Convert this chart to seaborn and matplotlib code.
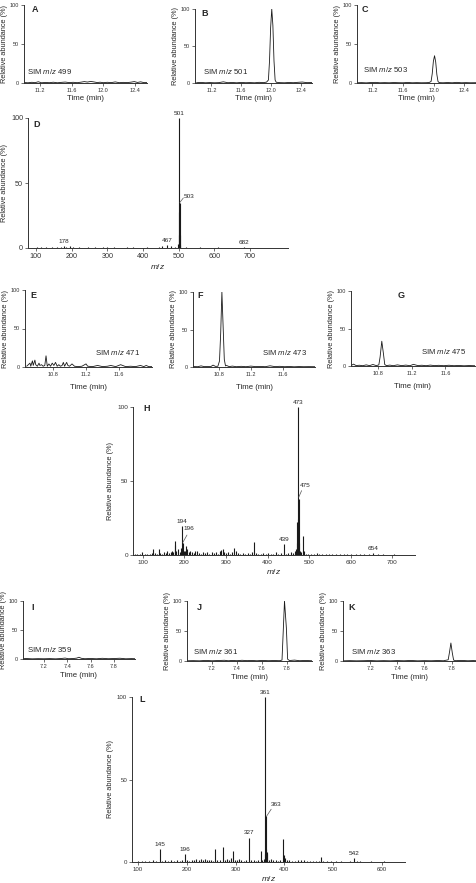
import pandas as pd
import matplotlib
matplotlib.use("Agg")
import matplotlib.pyplot as plt
import seaborn as sns

sns.set_style("ticks")
plt.rcParams['font.family'] = ['Liberation Sans', 'DejaVu Sans']
plt.rcParams['mathtext.fontset'] = 'custom'
plt.rcParams['mathtext.rm'] = 'Liberation Sans'
plt.rcParams['mathtext.it'] = 'Liberation Sans:italic'

# ---- SIM traces (time in min, relative abundance in %)
sim_499 = [(11.00,0.6),(11.05,0.3),(11.10,0.9),(11.14,0.4),(11.18,1.6),(11.22,0.3),(11.27,0.7),(11.32,0.4),
           (11.37,1.0),(11.42,0.3),(11.47,0.8),(11.52,1.2),(11.57,0.5),(11.62,0.9),(11.67,0.4),(11.72,1.1),
           (11.76,1.8),(11.80,1.2),(11.84,2.0),(11.88,1.4),(11.92,0.6),(11.96,1.0),(12.00,0.4),(12.05,0.9),
           (12.10,0.5),(12.15,1.4),(12.20,0.4),(12.25,0.8),(12.30,0.5),(12.35,1.1),(12.39,1.8),(12.43,0.7),
           (12.47,1.5),(12.51,0.5),(12.55,0.6)]
sim_501 = [(11.00,0.4),(11.06,0.8),(11.12,0.3),(11.18,0.6),(11.24,0.3),(11.30,0.5),(11.36,1.6),(11.42,0.4),
           (11.48,0.7),(11.54,0.3),(11.60,0.8),(11.66,0.4),(11.72,0.6),(11.78,0.3),(11.84,0.9),(11.90,0.5),
           (11.94,1.2),(11.965,4),(11.98,30),(11.995,75),(12.01,100),(12.025,78),(12.04,30),(12.055,4),
           (12.07,1.0),(12.12,0.5),(12.18,0.3),(12.24,0.7),(12.30,0.4),(12.36,0.9),(12.42,1.3),(12.48,0.5),
           (12.55,0.6)]
sim_503 = [(11.00,0.3),(11.06,0.5),(11.12,0.2),(11.18,0.6),(11.24,0.8),(11.30,0.3),(11.36,0.5),(11.42,0.3),
           (11.48,0.6),(11.54,0.4),(11.60,0.3),(11.66,0.7),(11.72,0.3),(11.78,0.5),(11.84,0.3),(11.90,0.4),
           (11.94,0.6),(11.965,2),(11.98,12),(11.995,28),(12.01,35),(12.025,27),(12.04,11),(12.055,2),
           (12.07,0.5),(12.12,0.3),(12.18,0.6),(12.24,0.3),(12.30,0.8),(12.36,0.3),(12.42,0.5),(12.48,0.3),
           (12.55,0.4)]
sim_471 = [(10.48,1),(10.50,3),(10.52,5),(10.53,1),(10.55,8),(10.56,2),(10.58,9),(10.59,3),(10.61,1),
           (10.63,5),(10.64,2),(10.66,3),(10.68,1),(10.70,2),(10.715,14.5),(10.73,1),(10.75,4),(10.77,1),
           (10.79,5),(10.81,2),(10.83,6),(10.85,1),(10.87,3),(10.89,1),(10.91,2),(10.925,6),(10.94,1),
           (10.965,6),(10.98,2),(11.00,1),(11.03,4),(11.06,1),(11.10,0.5),(11.15,1),(11.20,4),(11.22,1),
           (11.28,0.5),(11.34,2),(11.40,0.5),(11.46,1),(11.50,2),(11.56,0.5),(11.62,3),(11.68,0.5),(11.74,1),
           (11.80,0.5),(11.86,2),(11.90,0.5),(11.93,2),(11.96,0.5),(12.00,0.5)]
sim_473 = [(10.48,0.6),(10.54,0.4),(10.58,1.5),(10.62,0.5),(10.66,0.8),(10.70,0.4),(10.73,2.5),(10.76,0.8),
           (10.79,1.0),(10.81,8),(10.825,45),(10.84,100),(10.855,55),(10.87,10),(10.885,1.5),(10.90,2.0),
           (10.93,0.5),(10.97,1.2),(11.02,0.4),(11.08,0.9),(11.14,0.4),(11.20,1.2),(11.26,0.5),(11.32,0.8),
           (11.38,0.4),(11.44,1.6),(11.50,0.5),(11.56,0.9),(11.62,0.4),(11.68,0.7),(11.74,0.3),(11.80,0.6),
           (11.86,0.4),(11.92,0.5),(12.00,0.4)]
sim_475 = [(10.48,0.5),(10.51,2.5),(10.54,0.6),(10.58,1.0),(10.62,0.4),(10.66,1.5),(10.70,0.5),(10.74,2.0),
           (10.78,0.5),(10.81,1.5),(10.825,12),(10.845,33),(10.865,16),(10.88,2),(10.90,0.5),(10.94,1.2),
           (10.98,0.4),(11.03,1.5),(11.08,0.5),(11.13,1.2),(11.18,0.4),(11.22,2.2),(11.27,0.6),(11.32,1.0),
           (11.37,0.4),(11.42,1.2),(11.47,0.5),(11.52,0.9),(11.58,0.4),(11.64,1.0),(11.70,0.4),(11.76,0.7),
           (11.82,0.3),(11.88,0.6),(11.94,0.4),(12.00,0.4)]
sim_359 = [(7.00,0.4),(7.05,0.8),(7.10,0.3),(7.15,0.6),(7.20,0.4),(7.25,0.7),(7.30,0.3),(7.35,0.9),(7.38,1.6),
           (7.41,0.5),(7.45,0.8),(7.48,1.5),(7.50,3.0),(7.52,1.2),(7.55,0.5),(7.60,0.9),(7.65,0.4),(7.70,1.2),
           (7.75,0.5),(7.80,0.8),(7.85,1.3),(7.90,0.4),(7.95,0.7),(8.00,0.4)]
sim_361 = [(7.00,0.4),(7.05,0.6),(7.10,0.3),(7.15,1.0),(7.20,0.4),(7.25,0.8),(7.30,1.2),(7.33,0.4),(7.36,0.9),
           (7.40,0.5),(7.44,1.2),(7.48,0.6),(7.52,0.9),(7.56,0.4),(7.60,1.0),(7.65,0.5),(7.70,0.8),(7.74,0.5),
           (7.76,1.5),(7.77,50),(7.78,100),(7.795,55),(7.805,3),(7.82,0.8),(7.86,1.5),(7.90,0.5),(7.95,0.9),
           (8.00,0.4)]
sim_363 = [(7.00,0.3),(7.05,0.6),(7.10,0.3),(7.15,0.5),(7.20,0.8),(7.25,0.3),(7.30,0.6),(7.35,0.3),(7.40,0.7),
           (7.45,0.4),(7.50,0.9),(7.55,0.3),(7.60,0.6),(7.65,0.4),(7.70,0.8),(7.74,0.4),(7.775,2),(7.785,15),
           (7.795,30),(7.805,14),(7.815,1.5),(7.83,0.5),(7.87,1.0),(7.92,0.4),(7.96,0.7),(8.00,0.3)]

# ---- mass spectra (m/z, relative abundance %)
spec_D = [(102,0.8),(115,0.5),(128,0.7),(145,0.4),(160,0.6),(170,1.0),(178,1.2),(185,0.8),(195,1.2),
          (205,0.5),(222,0.4),(247,0.6),(265,0.4),(288,0.7),(300,0.5),(318,0.8),(340,0.3),(356,0.5),
          (372,0.4),(390,0.3),(410,0.4),(430,0.3),(445,0.6),(453,1.2),(467,2.3),(478,1.8),(489,0.5),
          (499,3.0),(500,10),(501,100),(502,28),(503,35),(504,10),(505,2),(520,0.5),(540,0.3),(560,0.4),
          (585,0.3),(610,0.4),(640,0.3),(665,0.3),(682,0.8),(700,0.3),(730,0.3),(760,0.2),(790,0.2)]
spec_H = [(80,0.8),(86,0.5),(92,1.0),(98,2.2),(104,0.6),(110,1.0),(116,0.8),(121,1.5),(125,4.0),(129,1.2),
          (134,0.8),(138,4.0),(142,1.6),(147,1.0),(151,2.0),(155,1.2),(158,2.5),(163,1.5),(167,2.2),
          (170,3.0),(173,2.0),(176,9.5),(178,7.0),(180,3.0),(185,4.0),(188,2.0),(191,5.0),(194,19.5),
          (196,8.0),(198,3.0),(201,2.5),(204,6.0),(207,4.0),(211,2.0),(214,3.0),(218,2.0),(222,1.5),
          (226,2.5),(230,3.0),(235,1.5),(240,1.0),(245,2.0),(250,1.2),(255,1.8),(260,1.0),(266,2.0),
          (271,1.2),(276,1.8),(281,1.0),(285,3.0),(289,3.5),(292,4.0),(296,2.0),(300,1.5),(305,2.0),
          (310,1.0),(315,2.0),(319,5.0),(323,2.5),(328,1.5),(333,1.0),(340,1.2),(346,0.8),(352,1.5),
          (358,1.0),(363,2.0),(367,9.0),(371,1.5),(377,1.0),(383,0.8),(390,1.2),(396,0.8),(402,1.5),
          (408,0.6),(414,1.0),(420,1.8),(426,0.8),(432,1.2),(439,7.5),(445,1.0),(450,1.5),(456,2.0),
          (461,1.5),(466,2.5),(469,4.0),(471,22.0),(472,8.0),(473,100),(474,24),(475,38),(476,8.0),
          (478,3.0),(481,2.0),(485,13.0),(488,2.5),(492,1.0),(498,0.8),(505,1.0),(512,0.6),(518,1.2),
          (525,0.5),(532,0.8),(540,0.5),(548,0.6),(556,0.4),(565,0.8),(574,0.4),(583,0.6),(592,0.4),
          (602,0.5),(612,0.4),(622,0.5),(633,0.4),(645,0.6),(654,1.5),(665,0.4),(678,0.5),(692,0.3),
          (705,0.4),(720,0.3),(738,0.3)]
spec_L = [(92,0.3),(100,0.6),(108,0.4),(115,0.8),(122,0.4),(130,1.2),(137,0.5),(145,7.8),(150,0.8),
          (156,1.0),(162,0.5),(168,1.2),(175,0.6),(181,1.0),(187,0.8),(191,1.2),(196,4.6),(200,1.0),
          (205,0.8),(210,1.5),(215,1.0),(220,2.0),(225,1.5),(229,2.0),(234,1.2),(238,1.8),(242,1.5),
          (246,1.0),(250,1.5),(254,0.8),(258,8.0),(263,1.2),(268,1.0),(274,8.8),(278,1.5),(282,2.0),
          (286,1.2),(290,2.2),(295,6.8),(299,1.2),(303,1.0),(307,2.0),(312,1.0),(317,0.8),(322,1.2),
          (327,14.8),(332,1.0),(337,1.5),(342,0.8),(347,1.5),(352,6.8),(355,1.0),(358,2.0),(360,5.0),
          (361,100),(362,8.0),(363,28.0),(364,5.0),(365,6.0),(368,1.5),(372,1.8),(377,1.2),(382,1.0),
          (387,0.8),(392,1.0),(397,14.0),(399,4.0),(401,2.5),(405,1.0),(410,1.5),(415,0.8),(421,0.6),
          (428,1.0),(434,1.2),(440,1.5),(446,0.8),(452,0.6),(458,0.8),(464,0.4),(470,0.6),(474,3.0),
          (480,0.5),(488,0.4),(496,0.6),(505,0.4),(515,0.5),(525,0.3),(535,0.6),(542,2.5),(548,0.8),
          (555,0.4),(565,0.3),(578,0.4),(590,0.3),(605,0.5),(620,0.3),(635,0.3)]

# labelled peaks
labels_D = [178, 467, 501, 682]
labels_H = [194, 439, 473, 654]
labels_L = [145, 196, 327, 361, 542]

W, H = 477, 883
fig = plt.figure(figsize=(W / 100, H / 100), dpi=100, facecolor='white')
ink = '#1a1a1a'


def panel(x0, y0, x1, y1):
    ax = fig.add_axes([x0 / W, 1 - y1 / H, (x1 - x0) / W, (y1 - y0) / H])
    sns.despine(ax=ax)
    for s in ['left', 'bottom']:
        ax.spines[s].set_linewidth(0.7)
        ax.spines[s].set_color('#333333')
    ax.set_ylim(0, 100)
    ax.set_yticks([0, 50, 100])
    return ax


def ftext(x, y, s, size, **kw):
    fig.text(x / W, 1 - y / H, s, fontsize=size, va='center', **kw)


def chrom(rect, pts, xlim, xticks, sim, letter, letter_xy, sim_xy, lpad):
    ax = panel(*rect)
    df = pd.DataFrame(pts, columns=['time', 'abund'])
    sns.lineplot(data=df, x='time', y='abund', ax=ax, color=ink, lw=0.6, sort=False)
    ax.set_xlim(xlim)
    ax.set_xticks(xticks)
    ax.set_xticklabels(['%.1f' % t for t in xticks])
    ax.tick_params(labelsize=4, length=2, width=0.5, pad=1.5, colors='#333333')
    ax.set_xlabel('Time (min)', fontsize=5.6, labelpad=lpad)
    ax.set_ylabel('Relative abundance (%)', fontsize=5.3, labelpad=1)
    ftext(*letter_xy, letter, 6.5, weight='bold', ha='center')
    ftext(*sim_xy, 'SIM $m/z$ ' + str(sim), 5.6, ha='left')
    return ax


def spectrum(rect, pts, xlim, xticks, labels, letter, letter_xy, tsize):
    ax = panel(*rect)
    df = pd.DataFrame(pts, columns=['mz', 'rel'])
    ax.vlines(df['mz'], 0, df['rel'], color=ink, lw=0.8)
    ax.set_xlim(xlim)
    ax.set_xticks(xticks)
    ax.tick_params(labelsize=tsize, length=2, width=0.5, pad=1.5, colors='#333333')
    ax.set_xlabel('$m/z$', fontsize=6, labelpad=1.5)
    ax.set_ylabel('Relative abundance (%)', fontsize=5.3, labelpad=2)
    for mz in labels:
        h = df.loc[df['mz'] == mz, 'rel'].iloc[0]
        ax.annotate(str(mz), (mz, h), xytext=(0, 1.5), textcoords='offset points',
                    ha='center', va='bottom', fontsize=4.6, annotation_clip=False)
    ftext(*letter_xy, letter, 6.5, weight='bold', ha='center')
    return ax


def leader(ax, mz, y0, x1, y1, xt, yt):
    ax.plot([mz, x1], [y0, y1], color='#555555', lw=0.5, clip_on=False)
    ax.text(xt, yt, str(mz), fontsize=4.6, ha='left', va='center')


t1 = [11.2, 11.6, 12.0, 12.4]
t2 = [10.8, 11.2, 11.6]
t3 = [7.2, 7.4, 7.6, 7.8]

# row 1
chrom((24, 5, 147, 83), sim_499, (11.0, 12.55), t1, 499, 'A', (35, 10), (27, 72), 1.5)
chrom((195, 9, 312, 83), sim_501, (10.98, 12.55), t1, 501, 'B', (205, 14), (203, 72), 1.5)
chrom((357, 5, 476, 83), sim_503, (11.0, 12.55), t1, 503, 'C', (365, 10), (363, 70), 1.5)

axD = spectrum((28, 118, 288, 248), spec_D, (78, 806), [100, 200, 300, 400, 500, 600, 700],
               labels_D, 'D', (37, 124), 5.2)
leader(axD, 503, 35, 513, 38.5, 515, 39.5)

# row 2
chrom((25, 290, 152, 367), sim_471, (10.46, 12.0), t2, 471, 'E', (33, 295), (95, 353), 5)
chrom((193, 292, 315, 367), sim_473, (10.48, 12.0), t2, 473, 'F', (200, 296), (262, 353), 5)
chrom((351, 291, 475, 366), sim_475, (10.48, 11.95), t2, 475, 'G', (401, 295), (421, 352), 5)

axH = spectrum((133, 407, 415, 555), spec_H, (76, 755), [100, 200, 300, 400, 500, 600, 700],
               labels_H, 'H', (147, 409), 4.6)
leader(axH, 475, 39, 482, 43.5, 478, 47)
leader(axH, 196, 8.5, 206, 13.5, 198, 17.6)

# row 3
chrom((23, 601, 135, 659), sim_359, (7.02, 7.98), t3, 359, 'I', (33, 607), (27, 649), 2.5)
chrom((187, 601, 312, 661), sim_361, (7.0, 8.0), t3, 361, 'J', (199, 607), (193, 651), 2.5)
chrom((343, 601, 476, 661), sim_363, (7.0, 7.98), t3, 363, 'K', (352, 607), (351, 651), 2.5)

axL = spectrum((132, 697, 405, 862), spec_L, (88, 647), [100, 200, 300, 400, 500, 600],
               labels_L, 'L', (142, 699), 4.4)
leader(axL, 363, 27.5, 373, 32, 373, 35)

fig.savefig('out.png', dpi=100, facecolor='white')
plt.close(fig)
